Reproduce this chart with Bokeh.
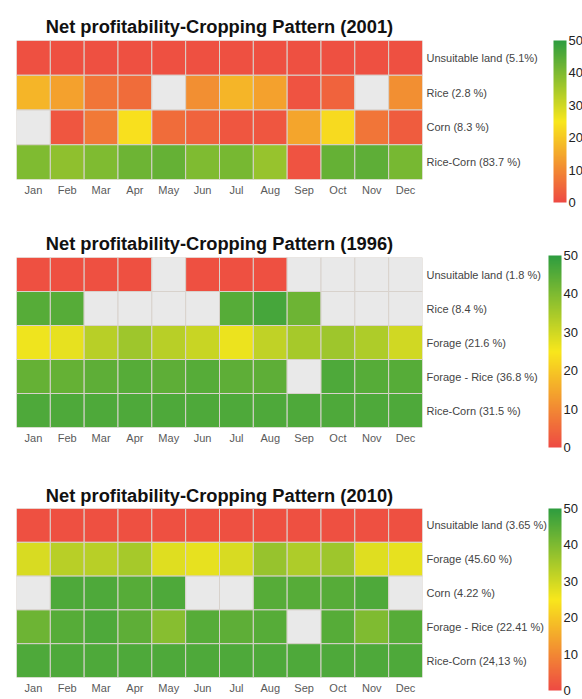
import numpy as np
from bokeh.plotting import figure
from bokeh.models import ColumnDataSource, LinearColorMapper, ColorBar, FixedTicker, FactorRange
from bokeh.layouts import column
from bokeh.transform import transform
from bokeh.embed import file_html
from bokeh.resources import INLINE

NA = float("nan")
months = ["Jan", "Feb", "Mar", "Apr", "May", "Jun", "Jul", "Aug", "Sep", "Oct", "Nov", "Dec"]

# ---- 2001 ----
rows_2001 = ["Unsuitable land (5.1%)", "Rice (2.8 %)", "Corn (8.3 %)", "Rice-Corn (83.7  %)"]
unsuitable_2001 = [1, 1, 1, 1, 1, 1, 1, 1, 1, 1, 1, 1]
rice_2001 = [17, 14, 7, 5.5, NA, 11, 17, 14, 1.5, 4, NA, 11]
corn_2001 = [NA, 2, 7.5, 24, 5.5, 4, 2, 2, 14.5, 23, 7, 3]
ricecorn_2001 = [40, 38, 40, 42, 43, 40, 41, 37, 1.5, 43, 44, 41]

# ---- 1996 ----
rows_1996 = ["Unsuitable land (1.8 %)", "Rice (8.4 %)", "Forage (21.6 %)", "Forage - Rice (36.8 %)", "Rice-Corn (31.5 %)"]
unsuitable_1996 = [1, 1, 1, 1, NA, 1, 1, 1, NA, NA, NA, NA]
rice_1996 = [45, 45, NA, NA, NA, NA, 45, 47, 42, NA, NA, NA]
forage_1996 = [26, 27, 33, 36, 33, 31, 26.5, 32, 35, 36, 34, 30]
foragerice_1996 = [43, 43, 44, 45, 44, 45, 44, 44, NA, 46, 45, 45]
ricecorn_1996 = [46, 46, 46, 46, 46, 46, 46, 46, 46, 46, 46, 46]

# ---- 2010 ----
rows_2010 = ["Unsuitable land (3.65 %)", "Forage (45.60 %)", "Corn (4.22 %)", "Forage - Rice (22.41 %)", "Rice-Corn (24,13 %)"]
unsuitable_2010 = [1, 1, 1, 1, 1, 1, 1, 1, 1, 1, 1, 1]
forage_2010 = [29, 33, 33, 35, 28, 27, 29, 37, 34, 36, 28, 27]
corn_2010 = [NA, 46, 46, 45, 46, NA, NA, 45, 45, 45, 46, NA]
foragerice_2010 = [42, 45, 46, 44, 39, 45, 44, 45, NA, 45, 40, 45]
ricecorn_2010 = [46, 46, 46, 46, 46, 46, 46, 46, 46, 46, 46, 46]

cb_ticks = [0, 10, 20, 30, 40, 50]

# palette red -> yellow -> green
anchors = np.array([(238, 74, 67), (248, 231, 28), (46, 157, 63)], dtype=float)
palette = []
for i in range(256):
    t = i / 255 * 2
    k = min(int(t), 1)
    f = t - k
    c = anchors[k] * (1 - f) + anchors[k + 1] * f
    palette.append("#%02x%02x%02x" % tuple(int(round(v)) for v in c))

FONT = "Liberation Sans"
FIG_W = 582
CB_LEFT = 548


def panel(title, rows, series, left, frame_w, frame_h, top, bottom,
          standoff, cb_h, cb_y):
    xs, ys, vs = [], [], []
    for r, vals in zip(rows, series):
        for m, v in zip(months, vals):
            xs.append(m)
            ys.append(r)
            vs.append(v)
    src = ColumnDataSource(data=dict(m=xs, r=ys, v=np.array(vs, dtype=float)))
    mapper = LinearColorMapper(palette=palette, low=0, high=50, nan_color="#e9e9e9")
    p = figure(x_range=FactorRange(*months), y_range=FactorRange(*reversed(rows)),
               width=FIG_W, height=top + frame_h + bottom, min_border_left=left,
               min_border_right=FIG_W - left - frame_w, min_border_top=top,
               min_border_bottom=bottom,
               y_axis_location="right", toolbar_location=None, output_backend="svg",
               title=title)
    p.rect(x="m", y="r", width=1, height=1, source=src,
           fill_color=transform("v", mapper), line_color="#d8d2cc", line_width=1)
    p.title.text_font = FONT
    p.title.text_font_size = "18.3px"
    p.title.text_font_style = "bold"
    p.title.text_color = "#111111"
    p.title.align = "center"
    p.title.standoff = standoff
    p.outline_line_color = None
    p.grid.visible = False
    for ax in (p.xaxis[0], p.yaxis[0]):
        ax.axis_line_color = None
        ax.major_tick_line_color = None
        ax.minor_tick_line_color = None
        ax.major_tick_out = 0
        ax.major_label_text_font = FONT
        ax.major_label_text_font_size = "11px"
        ax.major_label_standoff = 4
    p.xaxis.major_label_text_color = "#5a5a5a"
    p.yaxis.major_label_text_color = "#444444"
    cb = ColorBar(color_mapper=mapper, width=13, height=cb_h, padding=0, margin=0,
                  ticker=FixedTicker(ticks=cb_ticks), location=(CB_LEFT - left, cb_y),
                  major_tick_line_color=None, minor_tick_line_color=None,
                  bar_line_color=None, label_standoff=2,
                  background_fill_alpha=0, border_line_color=None,
                  major_label_text_font=FONT, major_label_text_font_size="13px",
                  major_label_text_color="#222222")
    p.add_layout(cb, "center")
    return p


p1 = panel("Net profitability-Cropping Pattern (2001)", rows_2001,
           [unsuitable_2001, rice_2001, corn_2001, ricecorn_2001],
           11, 416, 139, 40, 43, 8, 162, -23)
p2 = panel("Net profitability-Cropping Pattern (1996)", rows_1996,
           [unsuitable_1996, rice_1996, forage_1996, foragerice_1996, ricecorn_1996],
           16, 410, 170, 35, 43, 7, 192, -20)
p3 = panel("Net profitability-Cropping Pattern (2010)", rows_2010,
           [unsuitable_2010, forage_2010, corn_2010, foragerice_2010, ricecorn_2010],
           16, 406, 169, 38, 22, 6, 182, -13)

layout = column(p1, p2, p3, spacing=0)
open("out.html", "w").write(file_html(layout, INLINE))
